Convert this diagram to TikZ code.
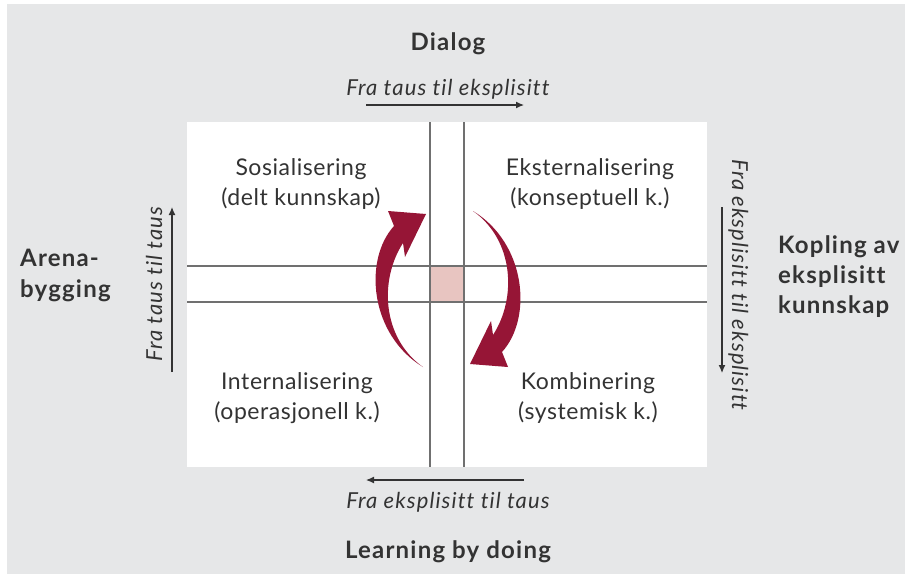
\documentclass[tikz,border=0pt]{standalone}
\usepackage{fontspec}
\setmainfont{Lato}
\newfontfamily\boardfont{Lato}[LetterSpace=2.5,Ligatures=NoCommon]
\newfontfamily\labelfont{Lato}[LetterSpace=5,Ligatures=NoCommon]
\usetikzlibrary{arrows.meta,positioning}
\definecolor{bggray}{HTML}{E6E7E8}
\definecolor{textgray}{HTML}{333333}
\definecolor{linegray}{HTML}{707070}
\definecolor{centerpink}{HTML}{E8C5C1}
\definecolor{arrowred}{HTML}{961536}

\begin{document}
\begin{tikzpicture}[x=1pt,y=-1pt,
				every node/.style={text=textgray,inner sep=0pt},
				quad/.style={anchor=base,font=\boardfont\fontsize{23}{27}\selectfont},
				side/.style={anchor=base west,font=\labelfont\bfseries\fontsize{24}{28}\selectfont},
				head/.style={anchor=base,font=\labelfont\bfseries\fontsize{24}{28}\selectfont},
				flow/.style={anchor=base,font=\labelfont\itshape\fontsize{22}{26}\selectfont},
				grid/.style={draw=linegray,line width=1.8pt},
				flowarrow/.style={draw=textgray,line width=1.2pt,-{Latex[length=8pt,width=7pt]}},
				turn/.style={fill=arrowred}
				]
				\useasboundingbox (0,0) rectangle (905,574);
				\fill[bggray] (7,4) rectangle (905,574);
				
				% the board
				\fill[white] (187,122) rectangle (707,467);
				\fill[centerpink] (430,266) rectangle (464,302);
				\draw[grid] (430,122) -- (430,467);
				\draw[grid] (464,122) -- (464,467);
				\draw[grid] (187,266) -- (707,266);
				\draw[grid] (187,302) -- (707,302);
				
				% quadrants
				\node[quad] (sos) at (301,175) {Sosialisering};
				\node[quad] (sosk) at (301,205) {(delt kunnskap)};
				\node[quad] (eks) at (590,175) {Eksternalisering};
				\node[quad] (eksk) at (590,205) {(konseptuell k.)};
				\node[quad] (int) at (297,389) {Internalisering};
				\node[quad] (intk) at (297,419) {(operasjonell k.)};
				\node[quad] (kom) at (588,389) {Kombinering};
				\node[quad] (komk) at (588,419) {(systemisk k.)};
				
				% outer labels
				\node[head] (dialog) at (448,50) {Dialog};
				\node[head] (doing) at (448,558) {Learning by doing};
				\node[side] (arena) at (20,266) {Arena-};
				\node[side] (bygg) at (20,297) {bygging};
				\node[side] (kopl) at (778,253) {Kopling av};
				\node[side] (ekspl) at (778,283) {eksplisitt};
				\node[side] (kunn) at (778,313) {kunnskap};
				
				% flow directions
				\node[flow] (ftop) at (448,95) {Fra taus til eksplisitt};
				\node[flow] (fbot) at (448,508) {Fra eksplisitt til taus};
				\node[flow,rotate=90] (fleft) at (162,284) {Fra taus til taus};
				\node[flow,rotate=-90] (fright) at (732,285) {Fra eksplisitt til eksplisitt};
				\coordinate (t1) at (366,105);
				\coordinate (t2) at (524,105);
				\coordinate (b1) at (524,480);
				\coordinate (b2) at (366,480);
				\coordinate (l1) at (172,372);
				\coordinate (l2) at (172,207);
				\coordinate (r1) at (722,207);
				\coordinate (r2) at (722,373);
				\draw[flowarrow] (t1) -- (t2);
				\draw[flowarrow] (b1) -- (b2);
				\draw[flowarrow] (l1) -- (l2);
				\draw[flowarrow] (r1) -- (r2);
				
				% the turning arrows
				\fill[turn] (423,367) .. controls (370,335) and (363,260) .. (394,226)
					-- (388,211) -- (426,214) -- (405,257) -- (403,243)
					.. controls (379,280) and (382,338) .. cycle;
				\fill[turn,rotate around={180:(448,289)}] (423,367) .. controls (370,335) and (363,260) .. (394,226)
					-- (388,211) -- (426,214) -- (405,257) -- (403,243)
					.. controls (379,280) and (382,338) .. cycle;
			\end{tikzpicture}
\end{document}
